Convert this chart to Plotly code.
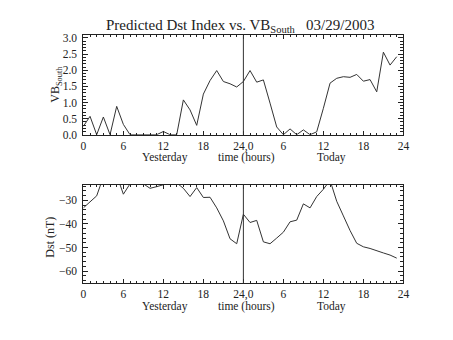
import plotly.graph_objects as go

hours = list(range(48))
vb_south = [0.26, 0.57, 0, 0.55, 0, 0.88, 0.32, 0, 0, 0, 0, 0,
            0.1, 0, 0, 1.08, 0.77, 0.29, 1.26, 1.68, 1.99, 1.65, 1.58, 1.48,
            1.65, 1.99, 1.63, 1.70, 0.98, 0.24, 0, 0.18, 0, 0.15, 0, 0.09,
            0.82, 1.6, 1.75, 1.8, 1.78, 1.87, 1.66, 1.71, 1.33, 2.56, 2.16, 2.42]
dst = [-33.2, -30.8, -28.1, -20, -19, -19.3, -27.4, -23, -21, -23, -24.9, -24.2,
       -23.4, -22, -22.6, -24.9, -28.4, -24.6, -28.8, -28.7, -33.2, -38.7, -46.3, -48.4,
       -35.9, -39.4, -38.5, -47.6, -48.4, -46.0, -43.5, -39.1, -38.4, -31.5, -33.2, -28.4,
       -25.3, -21.5, -30.4, -36.6, -42.8, -48.2, -49.7, -50.4, -51.5, -52.3, -53.2, -54.5]

x_tickvals = [0, 6, 12, 18, 24, 30, 36, 42, 48]
x_ticktext = ["0", "6", "12", "18", "24,0", "6", "12", "18", "24"]
vb_tickvals = [0.0, 0.5, 1.0, 1.5, 2.0, 2.5, 3.0]
vb_ticktext = ["0.0", "0.5", "1.0", "1.5", "2.0", "2.5", "3.0"]
dst_tickvals = [-60, -50, -40, -30]
dst_ticktext = ["\u221260", "\u221250", "\u221240", "\u221230"]

FONT = "Liberation Serif"
INK = "#222222"
LINE = "#333333"

fig = go.Figure()
fig.add_trace(go.Scatter(x=hours, y=vb_south, mode="lines", xaxis="x", yaxis="y",
                         line=dict(color=LINE, width=1), showlegend=False))
fig.add_trace(go.Scatter(x=hours, y=dst, mode="lines", xaxis="x2", yaxis="y2",
                         line=dict(color=LINE, width=1), showlegend=False))

W, H = 453, 340
xdom = [82 / W, 408.5 / W]
ydom_top = [1 - 135.3 / H, 1 - 33.3 / H]
ydom_bot = [1 - 288 / H, 1 - 186.7 / H]

def xaxis(anchor, dom):
    return dict(domain=dom, anchor=anchor, range=[0, 48], tickvals=x_tickvals, ticktext=x_ticktext,
                ticks="inside", ticklen=4, tickcolor=INK, tickwidth=1,
                minor=dict(ticks="inside", dtick=1, tick0=0, ticklen=2, tickcolor=INK),
                showline=True, linecolor=INK, linewidth=1, mirror="allticks",
                showgrid=False, zeroline=False,
                tickfont=dict(family=FONT, size=11.5, color=INK), ticklabelstandoff=0)

fig.update_layout(
    width=W, height=H, margin=dict(l=0, r=0, t=0, b=0),
    paper_bgcolor="white", plot_bgcolor="white",
    xaxis=xaxis("y", xdom),
    xaxis2=xaxis("y2", xdom),
    yaxis=dict(domain=ydom_top, anchor="x", range=[0, 3.08], tickvals=vb_tickvals, ticktext=vb_ticktext,
               ticks="inside", ticklen=5, tickcolor=INK,
               minor=dict(ticks="inside", dtick=0.1, tick0=0, ticklen=3, tickcolor=INK),
               showline=True, linecolor=INK, linewidth=1, mirror="allticks",
               showgrid=False, zeroline=False,
               tickfont=dict(family=FONT, size=11.5, color=INK), ticklabelstandoff=3),
    yaxis2=dict(domain=ydom_bot, anchor="x2", range=[-65.2, -23.4], tickvals=dst_tickvals, ticktext=dst_ticktext,
                ticks="inside", ticklen=5, tickcolor=INK,
                minor=dict(ticks="inside", dtick=2, tick0=0, ticklen=3, tickcolor=INK),
                showline=True, linecolor=INK, linewidth=1, mirror="allticks",
                showgrid=False, zeroline=False,
                tickfont=dict(family=FONT, size=11.5, color=INK), ticklabelstandoff=3),
)

# vertical separators at 24 h
fig.add_shape(type="line", xref="x", yref="y domain", x0=24, x1=24, y0=0, y1=1,
              line=dict(color=LINE, width=1))
fig.add_shape(type="line", xref="x2", yref="y2 domain", x0=24, x1=24, y0=0, y1=1,
              line=dict(color=LINE, width=1))

sp = "\u00a0"
title = "Predicted Dst Index vs. VB<sub>South</sub>" + sp * 3 + "03/29/2003"
fig.add_annotation(text=title, xref="paper", yref="paper", x=241.5 / W, y=1 - 24 / H,
                   showarrow=False, font=dict(family=FONT, size=15, color=INK),
                   xanchor="center", yanchor="middle")

def xlabels(xref, ypx):
    for txt, xv in (("Yesterday", 12.3), ("time (hours)", 24.5), ("Today", 37.2)):
        fig.add_annotation(text=txt, xref=xref, yref="paper", x=xv, y=1 - ypx / H,
                           showarrow=False, font=dict(family=FONT, size=11.5, color=INK),
                           xanchor="center", yanchor="middle")

xlabels("x", 158.5)
xlabels("x2", 311.5)

fig.add_annotation(text="VB<sub>South</sub>", xref="paper", yref="paper", x=54 / W, y=1 - 83 / H,
                   textangle=-90, showarrow=False, font=dict(family=FONT, size=12, color=INK),
                   xanchor="center", yanchor="middle")
fig.add_annotation(text="Dst (nT)", xref="paper", yref="paper", x=48 / W, y=1 - 241 / H,
                   textangle=-90, showarrow=False, font=dict(family=FONT, size=12, color=INK),
                   xanchor="center", yanchor="middle")

fig.write_html("out.html")
